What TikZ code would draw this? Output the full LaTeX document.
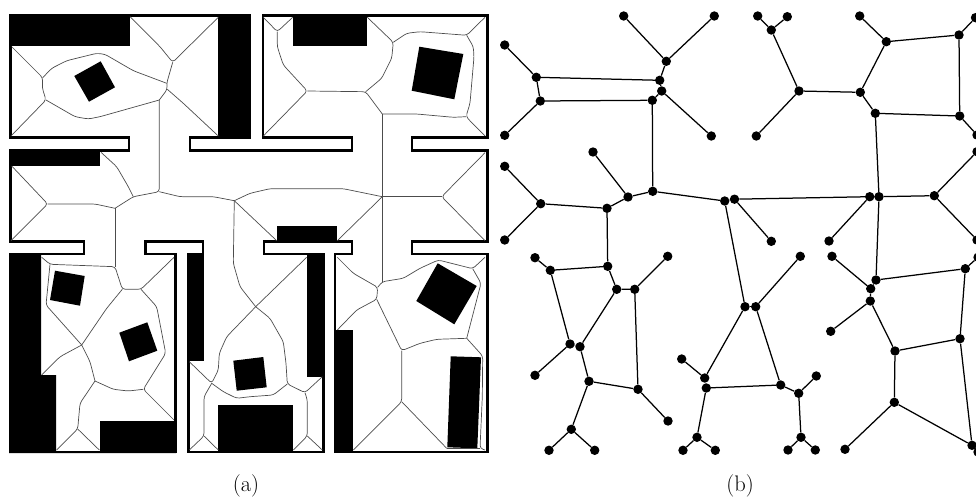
\documentclass[tikz,border=0pt]{standalone}
\tikzset{
  pared/.style={line width=2.5pt, miter limit=4},
  bloque/.style={fill=black, draw=none},
  esqueleto/.style={draw=black!70, line width=.7pt, rounded corners=3pt},
  nodo/.style={circle, fill=black, inner sep=0pt, minimum size=9.4pt},
  arista/.style={line width=1.25pt},
  rotulo/.style={font=\fontsize{22.5}{27}\selectfont}
}
\begin{document}
\begin{tikzpicture}[x=1pt,y=-1pt]
\useasboundingbox (0,0) rectangle (976,500);

% Paredes
\draw[pared] (10.5,15.5) -- (250,15.5) -- (250,137.5) -- (190,137.5) -- (190,150.5) -- (352,150.5) -- (352,137.5) -- (263,137.5) -- (263,15.5) -- (487.5,15.5) -- (487.5,137.5) -- (412,137.5) -- (412,150.5) -- (487.5,150.5) -- (487.5,241.5) -- (412,241.5) -- (412,254) -- (487.5,254) -- (487.5,452) -- (335,452) -- (335,254) -- (352,254) -- (352,241.5) -- (264,241.5) -- (264,254) -- (323.5,254) -- (323.5,452) -- (188.5,452) -- (188.5,254) -- (203,254) -- (203,241.5) -- (145.5,241.5) -- (145.5,254) -- (175.5,254) -- (175.5,452) -- (10,452) -- (10,254) -- (84,254) -- (84,241.5) -- (10.5,241.5) -- (10.5,150.5) -- (129,150.5) -- (129,137.5) -- (10.5,137.5) -- cycle;

% Obstaculos
\fill[bloque] (9.3,14.3) rectangle (130,46);
\fill[bloque] (218,14.3) rectangle (251,138);
\fill[bloque] (9.3,150) rectangle (100,165.7);
\fill[bloque] (9,253) -- (41,253) -- (41,375) -- (56,375) -- (56,451) -- (100,451) -- (100,421) -- (176,421) -- (176,453) -- (9,453) -- cycle;
\fill[bloque] (188,254) rectangle (203.5,361);
\fill[bloque] (218,405) rectangle (293,452);
\fill[bloque] (307,254) rectangle (324,376.5);
\fill[bloque] (277,226) rectangle (337,241.5);
\fill[bloque] (334,330) rectangle (352.5,453);
\fill[bloque] (293,15) rectangle (366.7,46);

% Cuadrados
\fill[bloque] (100.7,61.3) -- (115,87.3) -- (89,101.7) -- (74.3,76) -- cycle;
\fill[bloque] (419.3,46.7) -- (463.3,54) -- (454.3,99.3) -- (411.7,90.7) -- cycle;
\fill[bloque] (55,270.7) -- (84.7,276) -- (80,305.7) -- (50,300) -- cycle;
\fill[bloque] (147.3,322.3) -- (157.3,350.7) -- (129,361.3) -- (119.3,332.7) -- cycle;
\fill[bloque] (233.3,360.7) -- (263.3,357) -- (266.7,387.3) -- (236.7,390.7) -- cycle;
\fill[bloque] (437.7,263.3) -- (476.7,286) -- (454.3,324.3) -- (416.3,301) -- cycle;
\fill[bloque] (450.7,356.3) -- (481,357.3) -- (477.3,448.3) -- (447.3,447.3) -- cycle;

% Esqueleto, cuarto superior izquierdo
\draw[esqueleto] (11.7,46.7) -- (42.7,77.7) -- (42.3,88) -- (46,100) -- (11,136);
\draw[esqueleto] (42.7,77.7) -- (51.7,68.3) -- (66.7,60.7) -- (96.7,53.3) -- (105,54.3) -- (133.3,70.7) -- (166.7,83.3);
\draw[esqueleto] (46,100) -- (75,116.7) -- (88.3,119) -- (100,116.7) -- (159.3,100);
\draw[esqueleto] (159.3,100) -- (167.3,89.3) -- (166.7,83.3) -- (172.7,62.3);
\draw[esqueleto] (130,16.7) -- (160,46.7) -- (172.7,62.3) -- (218.3,17.3);
\draw[esqueleto] (167.3,89.3) -- (183.3,103.3) -- (218.3,136);

% Esqueleto, pasillo
\draw[esqueleto] (159.3,100) -- (159.3,191.7) -- (133.3,196.7) -- (115,208.3);
\draw[esqueleto] (101,152.3) -- (116.7,166.7) -- (128.3,186.7) -- (133.3,196.7);
\draw[esqueleto] (115,208.3) -- (95,204) -- (47.7,204);
\draw[esqueleto] (11.7,166) -- (47.7,204) -- (11,240.7);
\draw[esqueleto] (115,208.3) -- (115,266.7);
\draw[esqueleto] (159.3,191.7) -- (180,196.7) -- (213.3,196.7) -- (234.3,200.7);
\draw[esqueleto] (234.3,200.7) -- (250,193.3) -- (270,188.7) -- (343.3,188.7) -- (382.3,196.7);
\draw[esqueleto] (234.3,200.7) -- (276.7,240.7);
\draw[esqueleto] (234.3,200.7) -- (233.3,263.3) -- (240,286.7) -- (255.7,306.7);
\draw[esqueleto] (382.3,196.7) -- (337.3,240.7);
\draw[esqueleto] (485,152.7) -- (441.7,196.7) -- (485,240.7);
\draw[esqueleto] (382.3,196.7) -- (441.7,196.7);
\draw[esqueleto] (382.3,114) -- (382.3,281.7);

% Esqueleto, cuarto superior derecho
\draw[esqueleto] (263.3,17.3) -- (277.3,31.7) -- (292.7,17.3);
\draw[esqueleto] (277.3,31.7) -- (277.3,46.7) -- (283.3,65) -- (307.3,91) -- (263.3,136);
\draw[esqueleto] (307.3,91) -- (365.7,91.7) -- (382.3,114);
\draw[esqueleto] (367.3,17.3) -- (393.3,42.3) -- (391.7,58.3) -- (381.7,78.3) -- (365.7,91.7);
\draw[esqueleto] (393.3,42.3) -- (406.7,33.3) -- (420,31.7) -- (466.7,35.3) -- (485,17.3);
\draw[esqueleto] (466.7,35.3) -- (473.3,46.7) -- (474,56.7) -- (470,103.3) -- (466,116.7) -- (485,136);
\draw[esqueleto] (466,116.7) -- (453.3,117.3) -- (416.7,114) -- (382.3,114);

% Esqueleto, cuarto inferior izquierdo
\draw[esqueleto] (41.7,257.3) -- (50,264.3) -- (115,266.7) -- (122.3,289.3) -- (141,289.3) -- (174,257.3);
\draw[esqueleto] (50,264.3) -- (46,305) -- (81.7,345);
\draw[esqueleto] (122.3,289.3) -- (106.7,308.3) -- (81.7,345);
\draw[esqueleto] (81.7,345) -- (60,356.7) -- (41.7,375);
\draw[esqueleto] (81.7,345) -- (90,361.7) -- (95,381);
\draw[esqueleto] (141,289.3) -- (156.7,306.7) -- (165.7,353.3) -- (143.3,389.3) -- (174,420);
\draw[esqueleto] (95,381) -- (113.3,389.3) -- (128.3,391) -- (143.3,389.3);
\draw[esqueleto] (95,381) -- (80,403.3) -- (77.7,429) -- (56.7,450);
\draw[esqueleto] (77.7,429) -- (99.3,450);

% Esqueleto, cuarto inferior central
\draw[esqueleto] (306.7,257.3) -- (255.7,306.7) -- (226.7,336.7) -- (219.3,353.3) -- (218.3,370) -- (211.7,383.3) -- (189.3,361.7);
\draw[esqueleto] (255.7,306.7) -- (270,318.3) -- (283.3,341.7) -- (286,363.3) -- (287.3,384) -- (305,392.7) -- (322.3,376.7);
\draw[esqueleto] (287.3,384) -- (273.3,395) -- (250,396.7) -- (236.7,398.3) -- (223.3,391.7) -- (211.7,383.3);
\draw[esqueleto] (305,392.7) -- (307.3,400) -- (307.3,436) -- (293.3,450);
\draw[esqueleto] (307.3,436) -- (322.3,450);
\draw[esqueleto] (211.7,383.3) -- (204,396.7) -- (204,436) -- (189.3,450);
\draw[esqueleto] (204,436) -- (218.3,450);

% Esqueleto, cuarto inferior derecho
\draw[esqueleto] (337.3,257.3) -- (353.3,273.3) -- (377.7,287.3) -- (376.7,299.3) -- (356.7,310) -- (337.3,330);
\draw[esqueleto] (377.7,287.3) -- (382.3,281.7) -- (403.3,278.3) -- (420,268.3) -- (438.3,260) -- (472.7,268.7) -- (485,257.3);
\draw[esqueleto] (472.7,268.7) -- (481,283.3) -- (466.7,338.3);
\draw[esqueleto] (376.7,299.3) -- (401.7,350.7) -- (420,343.3) -- (436.7,339.3) -- (466.7,338.3);
\draw[esqueleto] (466.7,338.3) -- (482.7,356) -- (482.3,396.7) -- (480,448.3) -- (485,450);
\draw[esqueleto] (480,448.3) -- (447.3,448.3);
\draw[esqueleto] (401.7,350.7) -- (401.7,401.7) -- (353.3,450);
\draw[esqueleto] (401.7,401.7) -- (446.7,448.3);

% Nodos, arriba a la izquierda
\node[nodo] (a1) at (623.7,16) {};
\node[nodo] (a2) at (714.3,16) {};
\node[nodo] (a3) at (666.3,61.3) {};
\node[nodo] (a4) at (659.7,80.3) {};
\node[nodo] (a5) at (661.7,91) {};
\node[nodo] (a6) at (652.3,100.3) {};
\node[nodo] (a7) at (711.3,136) {};
\node[nodo] (l1) at (504.7,45) {};
\node[nodo] (l2) at (536.3,77.3) {};
\node[nodo] (l3) at (540.3,101) {};
\node[nodo] (l4) at (504.7,135.3) {};

% Nodos, centro a la izquierda
\node[nodo] (m1) at (593,152) {};
\node[nodo] (m2) at (628,197) {};
\node[nodo] (m3) at (652.7,191.3) {};
\node[nodo] (m4) at (607,208.3) {};
\node[nodo] (m5) at (540.7,203.7) {};
\node[nodo] (m6) at (504.7,166.3) {};
\node[nodo] (m7) at (504.7,240) {};
\node[nodo] (c1) at (724.7,201) {};
\node[nodo] (c2) at (734.5,199.2) {};
\node[nodo] (c3) at (771.3,241.3) {};

% Nodos, arriba a la derecha
\node[nodo] (t1) at (757.7,16) {};
\node[nodo] (t2) at (787.3,16.7) {};
\node[nodo] (t3) at (771.3,30) {};
\node[nodo] (t4) at (799,91) {};
\node[nodo] (t5) at (756.3,136) {};
\node[nodo] (t6) at (860.3,92.3) {};
\node[nodo] (t7) at (859.7,16) {};
\node[nodo] (t8) at (886.3,41.7) {};
\node[nodo] (t9) at (959,35) {};
\node[nodo] (t10) at (975.5,17.7) {};
\node[nodo] (t11) at (875.3,113.3) {};
\node[nodo] (t12) at (959.7,116) {};
\node[nodo] (t13) at (977,135) {};

% Nodos, centro a la derecha
\node[nodo] (c4) at (869.7,196.7) {};
\node[nodo] (c5) at (879,196.7) {};
\node[nodo] (c6) at (934.3,195.7) {};
\node[nodo] (c7) at (977,151.7) {};
\node[nodo] (c8) at (977,240) {};
\node[nodo] (c9) at (829,241) {};

% Nodos, abajo a la izquierda
\node[nodo] (b1) at (535,257.7) {};
\node[nodo] (b2) at (550.3,270.3) {};
\node[nodo] (b3) at (607.7,266.3) {};
\node[nodo] (b4) at (616.7,289.3) {};
\node[nodo] (b5) at (634.7,289.3) {};
\node[nodo] (b6) at (667.7,256.3) {};
\node[nodo] (b7) at (570,344) {};
\node[nodo] (b8) at (580,346.7) {};
\node[nodo] (b9) at (535,375.3) {};
\node[nodo] (b10) at (589,381.3) {};
\node[nodo] (b11) at (638,389.3) {};
\node[nodo] (b12) at (668,421) {};
\node[nodo] (b13) at (571.3,429.3) {};
\node[nodo] (b14) at (549,450.3) {};
\node[nodo] (b15) at (594.7,450.3) {};

% Nodos, abajo al centro
\node[nodo] (d1) at (681.7,359) {};
\node[nodo] (d2) at (704.7,378) {};
\node[nodo] (d3) at (706.3,388) {};
\node[nodo] (d4) at (697,437.3) {};
\node[nodo] (d5) at (683,450.3) {};
\node[nodo] (d6) at (715.3,450.3) {};
\node[nodo] (e1) at (745,306.7) {};
\node[nodo] (e2) at (755.7,306.7) {};
\node[nodo] (e3) at (800.3,256.3) {};
\node[nodo] (e4) at (780.7,385) {};
\node[nodo] (e5) at (798.7,393.3) {};
\node[nodo] (e6) at (816.3,376) {};
\node[nodo] (e7) at (801,437.3) {};
\node[nodo] (e8) at (788,450) {};
\node[nodo] (e9) at (815.3,450) {};

% Nodos, abajo a la derecha
\node[nodo] (f1) at (832,256.3) {};
\node[nodo] (f2) at (870.7,288.7) {};
\node[nodo] (f3) at (870.3,301) {};
\node[nodo] (f4) at (830.7,331.3) {};
\node[nodo] (f5) at (876,280) {};
\node[nodo] (f6) at (965.3,268.7) {};
\node[nodo] (f7) at (978,257.3) {};
\node[nodo] (f8) at (960,338.7) {};
\node[nodo] (f9) at (895,351) {};
\node[nodo] (f10) at (894.3,402.3) {};
\node[nodo] (f11) at (845,449.3) {};
\node[nodo] (f12) at (972,445.3) {};
\node[nodo] (f13) at (978,452) {};

% Aristas
\draw[arista] (a1) -- (a3) -- (a2);
\draw[arista] (a3) -- (a4) -- (l2) -- (l1);
\draw[arista] (a4) -- (a5) -- (a7);
\draw[arista] (a5) -- (a6) -- (l3) -- (l4);
\draw[arista] (l2) -- (l3);
\draw[arista] (a6) -- (m3) -- (m2) -- (m1);
\draw[arista] (m2) -- (m4) -- (m5) -- (m6);
\draw[arista] (m5) -- (m7);
\draw[arista] (m3) -- (c1) -- (c2) -- (c3);
\draw[arista] (c2) -- (c4) -- (c5) -- (c6) -- (c7);
\draw[arista] (c4) -- (c9);
\draw[arista] (c6) -- (c8);
\draw[arista] (t1) -- (t3) -- (t2);
\draw[arista] (t3) -- (t4) -- (t5);
\draw[arista] (t4) -- (t6) -- (t8) -- (t7);
\draw[arista] (t8) -- (t9) -- (t10);
\draw[arista] (t9) -- (t12) -- (t13);
\draw[arista] (t6) -- (t11) -- (t12);
\draw[arista] (t11) -- (c5) -- (f5) -- (f6) -- (f7);
\draw[arista] (m4) -- (b3) -- (b2) -- (b1);
\draw[arista] (b3) -- (b4) -- (b5) -- (b6);
\draw[arista] (b5) -- (b11) -- (b12);
\draw[arista] (b2) -- (b7) -- (b9);
\draw[arista] (b7) -- (b8) -- (b4);
\draw[arista] (b8) -- (b10) -- (b11);
\draw[arista] (b10) -- (b13) -- (b14);
\draw[arista] (b13) -- (b15);
\draw[arista] (c1) -- (e1) -- (d2) -- (d1);
\draw[arista] (d2) -- (d3) -- (d4) -- (d5);
\draw[arista] (d4) -- (d6);
\draw[arista] (d3) -- (e4) -- (e2) -- (e3);
\draw[arista] (e1) -- (e2);
\draw[arista] (e4) -- (e5) -- (e6);
\draw[arista] (e5) -- (e7) -- (e8);
\draw[arista] (e7) -- (e9);
\draw[arista] (f1) -- (f2) -- (f3) -- (f4);
\draw[arista] (f2) -- (f5);
\draw[arista] (f3) -- (f9) -- (f8) -- (f6);
\draw[arista] (f9) -- (f10) -- (f11);
\draw[arista] (f10) -- (f12) -- (f8);
\draw[arista] (f12) -- (f13);

% Rotulos
\node[rotulo] (rota) at (246,486) {(a)};
\node[rotulo] (rotb) at (740,486) {(b)};
\end{tikzpicture}
\end{document}
